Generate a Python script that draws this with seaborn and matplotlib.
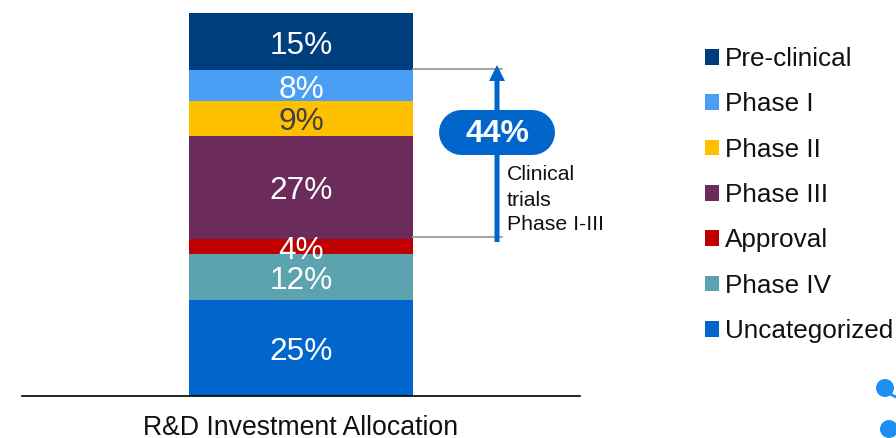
import numpy as np
import matplotlib
matplotlib.use("Agg")
import matplotlib.pyplot as plt
import seaborn as sns
from matplotlib.patches import Circle

# bottom of the stack first
stages = ["Uncategorized", "Phase IV", "Approval", "Phase III", "Phase II", "Phase I", "Pre-clinical"]
shares = [25, 12, 4, 27, 9, 8, 15]
colors = ["#0066CC", "#5BA3AF", "#C00000", "#6B2C5C", "#FFC000", "#4A9FF5", "#003E7E"]
label_colors = ["white", "white", "white", "white", "#404040", "white", "white"]
bar_name = "R&D Investment Allocation"

W, H = 896, 438


def main():
    sns.set_theme(style="white")
    plt.rcParams["font.family"] = ["Liberation Sans", "DejaVu Sans"]

    fig = plt.figure(figsize=(W / 100, H / 100), dpi=100)
    ax = fig.add_axes([22 / W, 1 - 396 / H, 558 / W, 383 / H])

    bottoms = np.concatenate([[0], np.cumsum(shares)[:-1]])
    for stage, share, bottom, color, text_color in zip(stages, shares, bottoms, colors, label_colors):
        sns.barplot(x=[bar_name], y=[share], bottom=bottom, color=color, saturation=1,
                    width=224 / 558, label=stage, ax=ax, legend=False, linewidth=0)
        ax.bar_label(ax.containers[-1], labels=[f"{share}%"], label_type="center",
                     color=text_color, fontsize=22.8, padding=-3)

    ax.set_xlim(-0.5, 0.5)
    ax.set_ylim(0, 100)
    ax.set_yticks([])
    ax.set_ylabel("")
    ax.set_xlabel("")
    ax.tick_params(axis="x", length=0, labelsize=19.2, labelcolor="#111111", pad=14)
    sns.despine(ax=ax, left=True)
    ax.spines["bottom"].set_color("black")
    ax.spines["bottom"].set_linewidth(1.2)

    handles, labels = ax.get_legend_handles_labels()
    fig.legend(handles[::-1], labels[::-1], loc="upper left",
               bbox_to_anchor=(705 / W, 1 - 47 / H), bbox_transform=fig.transFigure,
               frameon=False, fontsize=18.8, handlelength=0.54, handleheight=0.54,
               handletextpad=0.24, labelspacing=0.818, borderpad=0, borderaxespad=0,
               labelcolor="#111111")

    # overlay in pixel coordinates for the bracket and callout
    over = fig.add_axes([0, 0, 1, 1], zorder=5)
    over.set_xlim(0, W)
    over.set_ylim(H, 0)
    over.axis("off")

    over.plot([413, 502], [69, 69], color="#A6A6A6", lw=1.5)
    over.plot([413, 502], [237, 237], color="#A6A6A6", lw=1.5)
    over.arrow(497, 242, 0, -177, width=5, head_width=16, head_length=16,
               length_includes_head=True, fc="#0066CC", ec="none", zorder=3)
    over.plot([461, 532], [132, 132], color="#0066CC", lw=32.4,
              solid_capstyle="round", zorder=4)
    over.text(497, 134, "44%", color="white", fontsize=23, fontweight="bold",
              ha="center", va="center", zorder=5)
    over.text(507, 174, "Clinical", fontsize=15.3, color="#111111", ha="left", va="center")
    over.text(507, 200, "trials", fontsize=15.3, color="#111111", ha="left", va="center")
    over.text(507, 225, "Phase I-III", fontsize=15.3, color="#111111", ha="left", va="center")

    # blue dots clipped at the right edge
    over.add_patch(Circle((885, 388), 9, fc="#1E8FF0", ec="none"))
    over.plot([890, 898], [394, 398], color="#1E8FF0", lw=2)
    over.add_patch(Circle((889, 429), 9, fc="#1E8FF0", ec="none"))

    fig.savefig("out.png", dpi=100)


if __name__ == "__main__":
    main()
